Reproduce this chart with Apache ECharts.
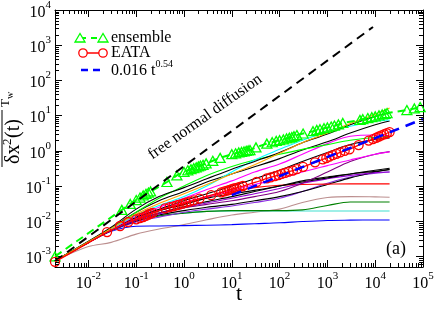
<!DOCTYPE html>
<html><head><meta charset="utf-8">
<script src="https://cdn.jsdelivr.net/npm/echarts@6/dist/echarts.min.js"></script>
<style>html,body{margin:0;padding:0;background:#fff;overflow:hidden}#c{width:436px;height:310px}</style>
</head><body><div id="c"></div>
<script>
// ---------------- data ----------------
const xTickExponents = ['-2','-1','0','1','2','3','4','5'];
const yTickExponents = ['-3','-2','-1','0','1','2','3','4'];

const ensembleT = [0.002,0.05,0.075,0.1,0.12,0.14,0.16,0.18,0.2,0.44,0.71,1.0,1.2,1.4,1.6,1.8,2.0,2.2,2.5,2.9,4.0,5.7,10,12,14,16,18,20,22,24,32,54,70,85,100,120,140,160,180,200,230,310,500,600,700,850,1000,1200,1400,1700,2100,4800,5500,7000,8500,10000,12000,14000,16000,17700,46000,66000,87000];
const ensembleY = [0.001,0.021,0.031,0.04,0.047,0.054,0.06,0.065,0.07,0.13,0.2,0.25,0.28,0.3,0.32,0.34,0.36,0.38,0.4,0.44,0.52,0.63,0.8,0.85,0.9,0.93,0.96,1.0,1.02,1.05,1.25,1.6,1.75,1.9,2.0,2.1,2.25,2.35,2.45,2.6,2.8,3.1,3.6,3.9,4.1,4.4,4.6,4.9,5.2,5.6,6.2,7.5,7.9,8.5,9.0,9.5,10.2,10.8,11.2,11.8,14.4,16.0,17.5];

const eataT = [0.002,0.0245,0.046,0.068,0.1,0.12,0.14,0.16,0.18,0.2,0.22,0.4,0.5,0.6,0.7,0.8,0.95,1.1,1.3,1.6,2.1,3.7,6.0,7.0,8.0,9.0,10,11,12.5,14.5,17,33,54,65,80,95,110,130,155,190,230,310,550,800,950,1100,1300,1550,1850,2300,2900,4500,7300,9000,10500,12000,13500,15500,17500,20000];
const eataY = [0.0007,0.0049,0.0073,0.0095,0.0113,0.0122,0.013,0.0142,0.0155,0.0165,0.0172,0.023,0.025,0.0265,0.028,0.0295,0.0315,0.0335,0.036,0.039,0.044,0.055,0.066,0.07,0.074,0.078,0.082,0.085,0.089,0.094,0.1,0.13,0.165,0.175,0.19,0.205,0.22,0.235,0.255,0.275,0.3,0.35,0.47,0.57,0.62,0.68,0.75,0.82,0.9,1.0,1.1,1.45,1.95,2.15,2.35,2.55,2.75,2.95,3.15,3.4];

const fitT = [10, 100000];
const fitY = [0.055, 8.0];

const freeT = [0.002, 9000];
const freeY = [0.00073, 3300];

const trajT = [0.002,0.01,0.03,0.1,0.3,1,3,10,30,100,300,1000,3000,10000,20000];
const trajOrange   = [7.5e-4,0.0026,0.0062,0.016,0.032,0.06,0.11,0.22,0.4,0.85,1.7,3.2,6.0,11,16.5];
const trajBlack1   = [7.5e-4,0.0027,0.0068,0.022,0.05,0.09,0.16,0.3,0.5,0.9,1.7,3.0,5.5,9.5,11.8];
const trajCyan     = [7.5e-4,0.0026,0.006,0.015,0.028,0.05,0.1,0.25,0.55,1.1,2.0,3.4,5.0,6.8,7.5];
const trajGreen    = [7.5e-4,0.0026,0.0062,0.018,0.045,0.1,0.2,0.36,0.55,0.8,1.1,1.5,2.0,2.4,2.6];
const trajBlack2   = [7.5e-4,0.0026,0.0064,0.018,0.038,0.07,0.13,0.22,0.35,0.6,1.05,1.8,3.2,5.5,7.0];
const trajMagenta1 = [7.5e-4,0.0025,0.0058,0.014,0.025,0.045,0.08,0.14,0.25,0.42,0.8,1.6,2.6,2.8,2.7];
const trajBlack3   = [7.5e-4,0.0025,0.0058,0.013,0.022,0.038,0.06,0.1,0.16,0.28,0.5,0.9,1.5,2.1,2.3];
const trajMagenta2 = [7.5e-4,0.0025,0.0057,0.012,0.021,0.034,0.05,0.075,0.11,0.16,0.25,0.38,0.55,0.8,0.93];
const trajPurple1  = [7.5e-4,0.0025,0.0055,0.011,0.017,0.024,0.03,0.038,0.05,0.07,0.12,0.25,0.5,0.8,0.95];
const trajBlack4   = [7.5e-4,0.0025,0.0055,0.011,0.017,0.026,0.036,0.05,0.07,0.1,0.14,0.18,0.22,0.28,0.32];
const trajBlack5   = [7.5e-4,0.0025,0.0056,0.012,0.02,0.03,0.045,0.06,0.075,0.1,0.13,0.17,0.22,0.26,0.29];
const trajPurple2  = [7.5e-4,0.0025,0.0054,0.0105,0.016,0.024,0.033,0.045,0.06,0.085,0.12,0.16,0.2,0.24,0.25];
const trajRed      = [7.5e-4,0.0025,0.0056,0.012,0.02,0.03,0.047,0.07,0.09,0.105,0.11,0.113,0.115,0.115,0.115];
const trajBlack6   = [7.5e-4,0.0025,0.0054,0.0102,0.015,0.02,0.025,0.03,0.038,0.05,0.07,0.11,0.17,0.25,0.3];
const trajPurple3  = [7.5e-4,0.0025,0.0053,0.0095,0.013,0.018,0.022,0.027,0.034,0.045,0.07,0.12,0.18,0.23,0.25];
const trajDarkGreen= [7.5e-4,0.0025,0.0054,0.01,0.014,0.017,0.019,0.02,0.02,0.02,0.021,0.028,0.035,0.035,0.035];
const trajTurq     = [7.5e-4,0.0025,0.0054,0.0098,0.014,0.017,0.019,0.0195,0.0195,0.0195,0.0195,0.0195,0.0195,0.0195,0.0195];
const trajBlue     = [7.5e-4,0.0025,0.0052,0.0072,0.0073,0.0075,0.0077,0.008,0.0085,0.009,0.0098,0.0105,0.0107,0.0108,0.0108];
const trajBrown    = [7.5e-4,0.0019,0.0025,0.0043,0.006,0.008,0.011,0.015,0.018,0.022,0.034,0.047,0.05,0.049,0.048];

// ---------------- styling / assembly ----------------
const FONT = 'Liberation Serif';
const xMin = 0.002, xMax = 1e5, yMin = 5e-4, yMax = 1e4;
const zip = (a, b) => a.map((v, i) => [v, b[i]]);

const trajectories = [
  [trajBrown, '#bc8f8f'], [trajBlue, '#0000ff'], [trajTurq, '#40e0d0'], [trajDarkGreen, '#008000'],
  [trajPurple3, '#8a2be2'], [trajBlack6, '#000000'], [trajRed, '#ff0000'], [trajPurple2, '#9400d3'],
  [trajBlack5, '#000000'], [trajBlack4, '#000000'], [trajPurple1, '#800080'], [trajMagenta2, '#ff00ff'],
  [trajBlack3, '#000000'], [trajMagenta1, '#ff00ff'], [trajBlack2, '#000000'], [trajGreen, '#00ff00'],
  [trajCyan, '#00ffff'], [trajBlack1, '#000000'], [trajOrange, '#ffa500']
];

function makeFmt(exps) {
  return function (v) {
    const l = Math.log10(v), e = Math.round(l);
    if (Math.abs(l - e) > 1e-6) return '';
    const i = exps.indexOf(String(e));
    return i < 0 ? '' : '{b|10}{s|' + exps[i] + '}';
  };
}
const labelRich = {
  b: { fontSize: 16, fontFamily: FONT, color: '#000', padding: [5, 0, 0, 0] },
  s: { fontSize: 11, fontFamily: FONT, color: '#000', verticalAlign: 'top' }
};
const axisCommon = {
  type: 'log', logBase: 10,
  axisLine: { show: true, onZero: false, lineStyle: { color: '#000', width: 1 } },
  axisTick: { show: true, inside: true, length: 7, lineStyle: { color: '#000', width: 1 } },
  splitLine: { show: false }, minorTick: { show: false }
};

const series = [];
trajectories.forEach(([ys, c]) => {
  series.push({ type: 'line', data: zip(trajT, ys), showSymbol: false, smooth: 0.35,
    lineStyle: { color: c, width: 1.1 }, silent: true, z: 2 });
});
series.push({ type: 'line', data: zip(ensembleT, ensembleY), symbol: 'triangle', symbolSize: [10, 9],
  itemStyle: { color: 'rgba(0,0,0,0)', borderColor: '#00ff00', borderWidth: 1.3 },
  lineStyle: { color: '#00ff00', width: 2, type: [8, 5] }, z: 3, silent: true });
series.push({ type: 'line', data: zip(freeT, freeY), showSymbol: false,
  lineStyle: { color: '#000', width: 2, type: [9, 6] }, z: 4, silent: true });
series.push({ type: 'line', data: zip(eataT, eataY), symbol: 'circle', symbolSize: 9,
  itemStyle: { color: 'rgba(0,0,0,0)', borderColor: '#ff0000', borderWidth: 1.3 },
  lineStyle: { color: '#ff0000', width: 1.3 }, z: 5, silent: true });
series.push({ type: 'line', data: zip(fitT, fitY), showSymbol: false,
  lineStyle: { color: '#0000ff', width: 2.5, type: [10, 7] }, z: 6, silent: true });
// minor ticks (log spaced) on all four sides
series.push({ type: 'custom', xAxisIndex: 0, yAxisIndex: 0, data: [[1, 1]], silent: true, z: 10,
  renderItem: function (params, api) {
    const ch = [];
    const lb = api.coord([xMin, yMin]), rt = api.coord([xMax, yMax]);
    const L = lb[0], B = lb[1], R = rt[0], T = rt[1];
    const st = { stroke: '#000', lineWidth: 1 };
    for (let k = -4; k <= 5; k++) for (let m = 2; m <= 9; m++) {
      const v = m * Math.pow(10, k);
      if (v > xMin && v < xMax) {
        const px = Math.round(api.coord([v, yMin])[0]) + 0.5;
        ch.push({ type: 'line', shape: { x1: px, y1: B, x2: px, y2: B - 4 }, style: st });
        ch.push({ type: 'line', shape: { x1: px, y1: T, x2: px, y2: T + 4 }, style: st });
      }
      if (v > yMin && v < yMax) {
        const py = Math.round(api.coord([xMin, v])[1]) + 0.5;
        ch.push({ type: 'line', shape: { x1: L, y1: py, x2: L + 4, y2: py }, style: st });
        ch.push({ type: 'line', shape: { x1: R, y1: py, x2: R - 4, y2: py }, style: st });
      }
    }
    return { type: 'group', children: ch };
  }
});

const chart = echarts.init(document.getElementById('c'), null, { renderer: 'canvas' });
chart.setOption({
  animation: false,
  backgroundColor: '#fff',
  grid: { left: 55, right: 13, top: 10, bottom: 43, containLabel: false, outerBoundsMode: 'none' },
  xAxis: [
    Object.assign({}, axisCommon, { min: xMin, max: xMax, position: 'bottom',
      axisLabel: { formatter: makeFmt(xTickExponents), rich: labelRich, margin: 4, showMinLabel: true, showMaxLabel: true } }),
    Object.assign({}, axisCommon, { min: xMin, max: xMax, position: 'top', axisLabel: { show: false } })
  ],
  yAxis: [
    Object.assign({}, axisCommon, { min: yMin, max: yMax, position: 'left',
      axisLabel: { formatter: makeFmt(yTickExponents), rich: labelRich, margin: 4, showMinLabel: true, showMaxLabel: true } }),
    Object.assign({}, axisCommon, { min: yMin, max: yMax, position: 'right', axisLabel: { show: false } })
  ],
  series: series,
  graphic: [
    // x axis title
    { type: 'text', x: 239, y: 294, style: { text: 't', fontFamily: FONT, fontSize: 22, fill: '#000', align: 'center', verticalAlign: 'middle' } },
    // legend
    { type: 'line', shape: { x1: 80, y1: 38, x2: 103, y2: 38 }, style: { stroke: '#00ff00', lineWidth: 2, lineDash: [6, 5] } },
    { type: 'polygon', shape: { points: [[80, 33.5], [75, 42], [85, 42]] }, style: { fill: '#fff', stroke: '#00ff00', lineWidth: 1.3 } },
    { type: 'polygon', shape: { points: [[103, 33.5], [98, 42], [108, 42]] }, style: { fill: '#fff', stroke: '#00ff00', lineWidth: 1.3 } },
    { type: 'text', x: 111, y: 38, style: { text: 'ensemble', fontFamily: FONT, fontSize: 16, fill: '#000', verticalAlign: 'middle' } },
    { type: 'line', shape: { x1: 83, y1: 53, x2: 103, y2: 53 }, style: { stroke: '#ff0000', lineWidth: 1.5 } },
    { type: 'circle', shape: { cx: 83, cy: 53, r: 4.2 }, style: { fill: '#fff', stroke: '#ff0000', lineWidth: 1.3 } },
    { type: 'circle', shape: { cx: 103, cy: 53, r: 4.2 }, style: { fill: '#fff', stroke: '#ff0000', lineWidth: 1.3 } },
    { type: 'text', x: 111, y: 53, style: { text: 'EATA', fontFamily: FONT, fontSize: 16, fill: '#000', verticalAlign: 'middle' } },
    { type: 'line', shape: { x1: 81, y1: 70, x2: 101, y2: 70 }, style: { stroke: '#0000ff', lineWidth: 2.5, lineDash: [7, 5] } },
    { type: 'text', x: 111, y: 69, style: { text: '{b|0.016 t}{s|0.54}', fill: '#000', verticalAlign: 'middle',
      rich: { b: { fontFamily: FONT, fontSize: 16, padding: [4, 0, 0, 0] }, s: { fontFamily: FONT, fontSize: 10, verticalAlign: 'top' } } } },
    // annotation
    { type: 'text', x: 205, y: 117, rotation: 0.62, style: { text: 'free normal diffusion', fontFamily: FONT, fontSize: 16, fill: '#000', align: 'center', verticalAlign: 'middle' } },
    { type: 'text', x: 396, y: 249, style: { text: '(a)', fontFamily: FONT, fontSize: 18, fill: '#000', align: 'center', verticalAlign: 'middle' } },
    // y axis title
    { type: 'group', x: 14, y: 164, rotation: Math.PI / 2, children: [
      { type: 'text', x: 0, y: 0, style: { text: 'δx', fontFamily: FONT, fontSize: 20, fill: '#000', verticalAlign: 'middle' } },
      { type: 'text', x: 19, y: -6, style: { text: '2', fontFamily: FONT, fontSize: 13, fill: '#000', verticalAlign: 'middle' } },
      { type: 'text', x: 26, y: 0, style: { text: '(t)', fontFamily: FONT, fontSize: 20, fill: '#000', verticalAlign: 'middle' } },
      { type: 'line', shape: { x1: -3, y1: -12, x2: 54, y2: -12 }, style: { stroke: '#000', lineWidth: 1 } },
      { type: 'text', x: 57, y: -8, style: { text: 'T', fontFamily: FONT, fontSize: 13, fill: '#000', verticalAlign: 'middle' } },
      { type: 'text', x: 65, y: -4, style: { text: 'w', fontFamily: FONT, fontSize: 10, fill: '#000', verticalAlign: 'middle' } }
    ] }
  ]
});
</script></body></html>
